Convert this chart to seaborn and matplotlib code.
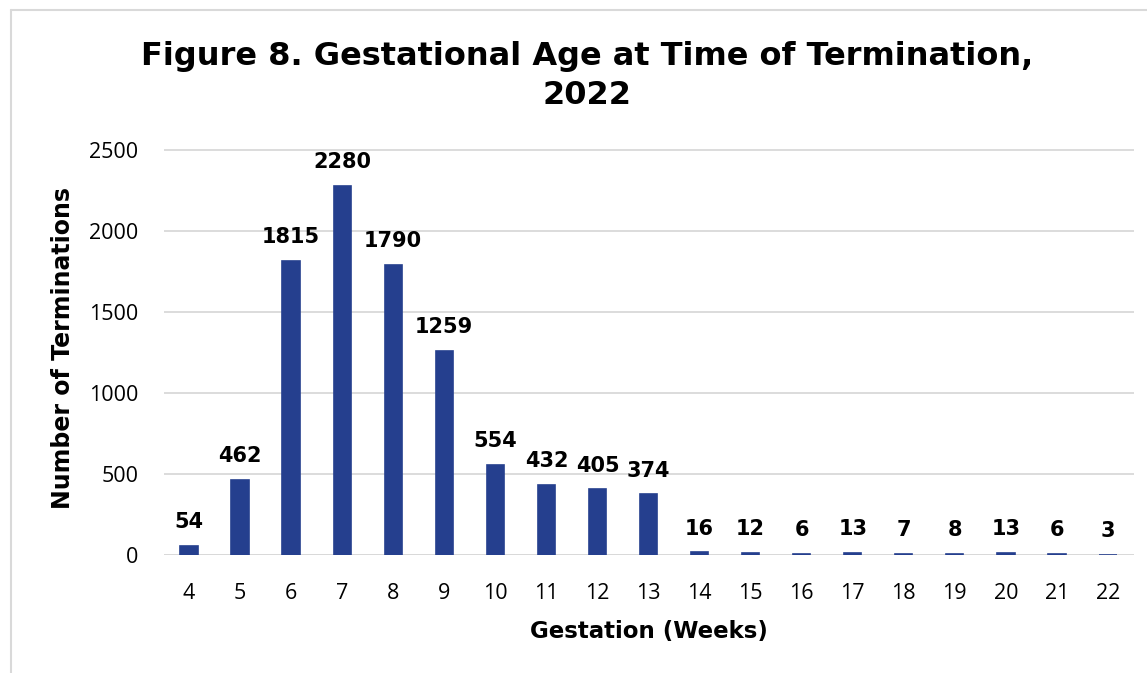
import numpy as np
import pandas as pd
import matplotlib
matplotlib.use("Agg")
import matplotlib.pyplot as plt
import seaborn as sns
from matplotlib.lines import Line2D

# chart data
weeks = ["4", "5", "6", "7", "8", "9", "10", "11", "12", "13",
         "14", "15", "16", "17", "18", "19", "20", "21", "22"]
terminations = [54, 462, 1815, 2280, 1790, 1259, 554, 432, 405, 374,
                16, 12, 6, 13, 7, 8, 13, 6, 3]
y_ticks = [0, 500, 1000, 1500, 2000, 2500]

title = "Figure 8. Gestational Age at Time of Termination,\n2022"
x_label = "Gestation (Weeks)"
y_label = "Number of Terminations"

df = pd.DataFrame({"week": weeks, "count": terminations})

sns.set_style("white")
plt.rcParams["font.family"] = ["Open Sans", "DejaVu Sans"]
plt.rcParams["text.color"] = "black"
plt.rcParams["axes.labelcolor"] = "black"

bold_font = ["DejaVu Sans"]

fig = plt.figure(figsize=(11.47, 6.73), dpi=100)
ax = fig.add_axes([163.5 / 1147, 1 - 555 / 673, (1133.5 - 163.5) / 1147, (555 - 150) / 673 * 2550 / 2500])

sns.barplot(data=df, x="week", y="count", order=weeks, color="#253F8E",
            width=0.34, saturation=1, edgecolor="#253F8E", linewidth=1.2, ax=ax)

ax.set_ylim(0, 2550)
ax.set_yticks(y_ticks)
ax.set_yticklabels([str(t) for t in y_ticks])
ax.grid(axis="y", color="#D9D9D9", linewidth=1.3)
ax.set_axisbelow(True)
for s in ax.spines.values():
    s.set_visible(False)
ax.axhline(0, color="#D9D9D9", linewidth=1.3, zorder=0)
ax.tick_params(axis="both", length=0, labelsize=15.5, colors="black")
ax.tick_params(axis="x", pad=20)
ax.tick_params(axis="y", pad=18)

ax.bar_label(ax.containers[0], labels=[str(v) for v in terminations],
             padding=10, fontsize=15, fontweight="bold", family=bold_font, color="black")

ax.set_xlabel(x_label, fontsize=16.5, fontweight="bold", family=bold_font, labelpad=12)
ax.set_ylabel(y_label, fontsize=17, fontweight="bold", family=bold_font, labelpad=10)

fig.text(587 / 1147, 1 - 76 / 673, title, ha="center", va="center",
         fontsize=23, fontweight="bold", family=bold_font, linespacing=1.3)

# outer frame (left and top edges visible)
fig.add_artist(Line2D([11 / 1147, 11 / 1147], [0, 1 - 10 / 673],
                      transform=fig.transFigure, color="#D9D9D9", linewidth=1.5))
fig.add_artist(Line2D([11 / 1147, 1], [1 - 10 / 673, 1 - 10 / 673],
                      transform=fig.transFigure, color="#D9D9D9", linewidth=1.5))

fig.savefig("out.png", dpi=100)
